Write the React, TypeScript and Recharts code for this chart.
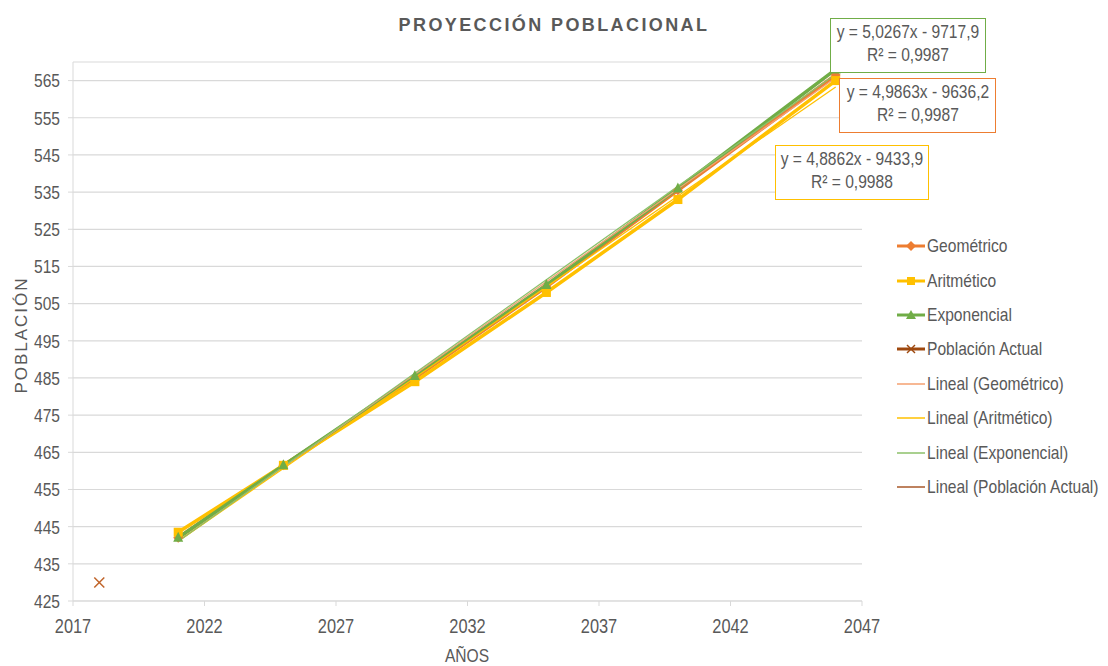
import React from 'react';
import { ComposedChart, Line, XAxis, YAxis, CartesianGrid } from 'recharts';

// Años proyectados y valores por método
const years = [2021, 2025, 2030, 2035, 2040, 2046];
const geometrico = [442, 461.5, 485, 509.5, 535.5, 566.5];
const aritmetico = [443.5, 461.5, 484, 508, 533, 565];
const exponencial = [442, 461.5, 485.5, 510, 536, 568];

// Población actual (censo)
const actualYears = [2018];
const actualValues = [430];

// Ecuaciones de tendencia lineal que muestra el gráfico
const trendSlopes = { geo: 4.9863, ari: 4.8862, exp: 5.0267 };
const trendIntercepts = { geo: -9636.2, ari: -9433.9, exp: -9717.9 };
const trendYears = [2021, 2046];

const xTicks = [2017, 2022, 2027, 2032, 2037, 2042, 2047];
const yTicks = [425, 435, 445, 455, 465, 475, 485, 495, 505, 515, 525, 535, 545, 555, 565];

const GEO = '#ED7D31';
const ARI = '#FFC000';
const EXP = '#70AD47';
const ACT = '#C0642A';
const TXT = '#595959';
const FONT = "'Liberation Sans', Arial, sans-serif";
const SQUEEZE = 0.82; // imita la fuente estrecha del original

const toData = (xs: number[], ys: number[]) => xs.map((year, i) => ({ year, value: ys[i] }));
const trend = (k: 'geo' | 'ari' | 'exp') =>
  trendYears.map((year) => ({ year, value: trendSlopes[k] * year + trendIntercepts[k] }));

const Diamond = (p: any) => (
  <polygon key={`d${p.index}`} points={`${p.cx},${p.cy - 5} ${p.cx + 5},${p.cy} ${p.cx},${p.cy + 5} ${p.cx - 5},${p.cy}`} fill={GEO} />
);
const Square = (p: any) => <rect key={`s${p.index}`} x={p.cx - 4.5} y={p.cy - 4.5} width={9} height={9} fill={ARI} />;
const Triangle = (p: any) => (
  <polygon key={`t${p.index}`} points={`${p.cx},${p.cy - 6} ${p.cx + 5},${p.cy + 4} ${p.cx - 5},${p.cy + 4}`} fill={EXP} />
);
const Cross = (p: any) => (
  <g key={`x${p.index}`} stroke={ACT} strokeWidth={1.5}>
    <line x1={p.cx - 5} y1={p.cy - 5} x2={p.cx + 5} y2={p.cy + 5} />
    <line x1={p.cx - 5} y1={p.cy + 5} x2={p.cx + 5} y2={p.cy - 5} />
  </g>
);

const XTick = ({ x, y, payload }: any) => (
  <g transform={`translate(${x},${y}) scale(${SQUEEZE},1)`}>
    <text x={0} y={0} dy="0.75em" textAnchor="middle" fill={TXT} fontSize={20} fontFamily={FONT}>{payload.value}</text>
  </g>
);
const YTick = ({ x, y, payload }: any) => (
  <g transform={`translate(${x},${y}) scale(${SQUEEZE},1)`}>
    <text x={0} y={0} dy="0.36em" textAnchor="end" fill={TXT} fontSize={19} fontFamily={FONT}>{payload.value}</text>
  </g>
);

const Narrow = ({ children, origin = 'left center' }: { children: React.ReactNode; origin?: string }) => (
  <span style={{ display: 'inline-block', transform: `scaleX(${SQUEEZE})`, transformOrigin: origin, whiteSpace: 'nowrap', flexShrink: 0 }}>
    {children}
  </span>
);

const legendItems = [
  { label: 'Geométrico', color: GEO, width: 3, marker: 'diamond' },
  { label: 'Aritmético', color: ARI, width: 3, marker: 'square' },
  { label: 'Exponencial', color: EXP, width: 3, marker: 'triangle' },
  { label: 'Población Actual', color: '#9E480E', width: 3, marker: 'cross' },
  { label: 'Lineal (Geométrico)', color: '#F4A070', width: 1.5, marker: '' },
  { label: 'Lineal (Aritmético)', color: ARI, width: 1.5, marker: '' },
  { label: 'Lineal (Exponencial)', color: '#8CC06A', width: 1.5, marker: '' },
  { label: 'Lineal (Población Actual)', color: '#A9592A', width: 1.5, marker: '' },
];

function LegendIcon({ color, width, marker }: { color: string; width: number; marker: string }) {
  return (
    <svg width={30} height={14} style={{ marginRight: 1, flexShrink: 0 }}>
      <line x1={1} y1={7} x2={29} y2={7} stroke={color} strokeWidth={width} />
      {marker === 'diamond' && <polygon points="15,2 20,7 15,12 10,7" fill={color} />}
      {marker === 'square' && <rect x={11} y={3} width={8} height={8} fill={color} />}
      {marker === 'triangle' && <polygon points="15,2 20,11 10,11" fill={color} />}
      {marker === 'cross' && (
        <g stroke={color} strokeWidth={1.5}>
          <line x1={11} y1={3} x2={19} y2={11} />
          <line x1={11} y1={11} x2={19} y2={3} />
        </g>
      )}
    </svg>
  );
}

function EqBox({ left, top, width, border, lines }: { left: number; top: number; width: number; border: string; lines: string[] }) {
  return (
    <div
      style={{
        position: 'absolute', left, top, width, height: 55, boxSizing: 'border-box',
        border: `1.5px solid ${border}`, background: '#fff', color: TXT, fontFamily: FONT,
        fontSize: 19, lineHeight: '23px', paddingTop: 1,
      }}
    >
      {lines.map((l) => (
        <div key={l} style={{ display: 'flex', justifyContent: 'center' }}>
          <Narrow origin="center center">{l}</Narrow>
        </div>
      ))}
    </div>
  );
}

export default function App() {
  return (
    <div style={{ position: 'fixed', left: 0, top: 0, width: 1108, height: 666, background: '#fff', overflow: 'hidden' }}>
      <ComposedChart width={1108} height={666} margin={{ top: 62, right: 246, bottom: 35, left: 13 }}>
        <CartesianGrid vertical={false} stroke="#D9D9D9" strokeWidth={1.2} />
        <XAxis
          type="number" dataKey="year" domain={[2017, 2047]} ticks={xTicks} height={30}
          stroke="#D9D9D9" tickSize={5} tickMargin={12} allowDuplicatedCategory={false}
          tick={<XTick />}
        />
        <YAxis
          type="number" domain={[425, 570]} ticks={yTicks} width={60} stroke="#D9D9D9"
          tickSize={5} tickMargin={8} allowDataOverflow
          tick={<YTick />}
        />
        <Line data={toData(years, geometrico)} dataKey="value" stroke={GEO} strokeWidth={3.5} dot={Diamond} activeDot={false} isAnimationActive={false} />
        <Line data={toData(years, aritmetico)} dataKey="value" stroke={ARI} strokeWidth={3.5} dot={Square} activeDot={false} isAnimationActive={false} />
        <Line data={toData(years, exponencial)} dataKey="value" stroke={EXP} strokeWidth={3.5} dot={Triangle} activeDot={false} isAnimationActive={false} />
        <Line data={toData(actualYears, actualValues)} dataKey="value" stroke={ACT} strokeWidth={0} dot={Cross} activeDot={false} isAnimationActive={false} />
        <Line data={trend('geo')} dataKey="value" stroke="#F4A070" strokeWidth={1.3} dot={false} activeDot={false} isAnimationActive={false} />
        <Line data={trend('ari')} dataKey="value" stroke={ARI} strokeWidth={1.3} dot={false} activeDot={false} isAnimationActive={false} />
        <Line data={trend('exp')} dataKey="value" stroke="#8CC06A" strokeWidth={1.3} dot={false} activeDot={false} isAnimationActive={false} />
      </ComposedChart>

      <div style={{ position: 'absolute', left: 0, width: 1108, top: 15, textAlign: 'center', color: TXT, fontFamily: FONT, fontWeight: 'bold', fontSize: 18, letterSpacing: 2.4 }}>
        PROYECCIÓN POBLACIONAL
      </div>
      <div style={{ position: 'absolute', left: 22, top: 335, transform: 'translate(-50%, -50%) rotate(-90deg)', color: TXT, fontFamily: FONT, fontSize: 17, letterSpacing: 2, whiteSpace: 'nowrap' }}>
        POBLACIÓN
      </div>
      <div style={{ position: 'absolute', left: 467, top: 656, transform: 'translate(-50%, -50%)', color: TXT, fontFamily: FONT, fontSize: 19 }}>
        <Narrow origin="center center">AÑOS</Narrow>
      </div>

      <EqBox left={830} top={18} width={156} border={EXP} lines={['y = 5,0267x - 9717,9', 'R² = 0,9987']} />
      <EqBox left={839} top={78} width={157} border={GEO} lines={['y = 4,9863x - 9636,2', 'R² = 0,9987']} />
      <EqBox left={775} top={145} width={154} border={ARI} lines={['y = 4,8862x - 9433,9', 'R² = 0,9988']} />

      <div style={{ position: 'absolute', left: 896, top: 229 }}>
        {legendItems.map((it) => (
          <div key={it.label} style={{ display: 'flex', alignItems: 'center', height: 34.4, color: TXT, fontFamily: FONT, fontSize: 19 }}>
            <LegendIcon color={it.color} width={it.width} marker={it.marker} />
            <Narrow>{it.label}</Narrow>
          </div>
        ))}
      </div>
    </div>
  );
}
